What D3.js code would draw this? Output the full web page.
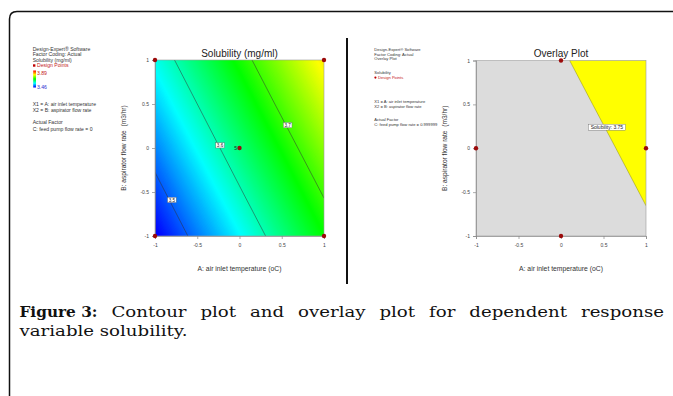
<!DOCTYPE html>
<html><head><meta charset="utf-8">
<script src="https://cdn.jsdelivr.net/npm/d3@7"></script>
<style>body{margin:0;background:#fff} svg{display:block}</style>
</head><body><svg id="c" width="673" height="396"></svg>
<script>
// ---------------- data ----------------
const tickValues = [-1, -0.5, 0, 0.5, 1];
const gridA = [-1, -0.5, 0, 0.5, 1];          // columns
const gridB = [1, 0.5, 0, -0.5, -1];          // rows, top to bottom
// Solubility (mg/ml) at C = 0 (left contour plot)
const solubilityC0 = [
  [3.575, 3.629, 3.684, 3.738, 3.792],
  [3.546, 3.600, 3.654, 3.709, 3.763],
  [3.516, 3.571, 3.625, 3.679, 3.734],
  [3.487, 3.541, 3.596, 3.650, 3.704],
  [3.458, 3.512, 3.566, 3.621, 3.675]
];
// Solubility at C = 0.999999 (right overlay plot)
const solubilityC1 = [
  [3.630, 3.684, 3.739, 3.793, 3.847],
  [3.601, 3.655, 3.709, 3.764, 3.818],
  [3.571, 3.626, 3.680, 3.734, 3.789],
  [3.542, 3.596, 3.651, 3.705, 3.759],
  [3.513, 3.567, 3.621, 3.676, 3.730]
];
const colorRange = [3.46, 3.89];
const contourLevels = [3.5, 3.6, 3.7];
const contourLabelA = [-0.80, -0.23, 0.57];
const contourLabelB = [-0.59, 0.03, 0.26];
const overlayLevel = 3.75;
const overlayLabel = {A: 0.54, B: 0.24, text: "Solubility: 3.75"};
const designLeftA = [-1, 1, -1, 1, 0];
const designLeftB = [1, 1, -1, -1, 0];
const designLeftN = ["", "", "", "", "5"];
const designRightA = [0, -1, 1, 0];
const designRightB = [1, 0, 0, -1];
const legendLeft = ["Design-Expert\u00AE Software", "Factor Coding: Actual", "Solubility (mg/ml)"];
const legendFactors = ["X1 = A: air inlet temperature", "X2 = B: aspirator flow rate"];
const legendLeft3 = ["Actual Factor", "C: feed pump flow rate = 0"];
const legendRight = ["Design-Expert\u00AE Software", "Factor Coding: Actual", "Overlay Plot"];
const legendRight3 = ["Actual Factor", "C: feed pump flow rate = 0.999999"];
const titles = ["Solubility (mg/ml)", "Overlay Plot"];
const xTitle = "A: air inlet temperature (oC)";
const yTitle = "B: aspirator flow rate\u00A0\u00A0(m3/hr)";
const captionBold = "Figure 3:";
const captionLine1 = "Contour plot and overlay plot for dependent response";
const captionLine2 = "variable solubility.";

// ---------------- drawing ----------------
const svg = d3.select("#c");
const SANS = "'Liberation Sans', Arial, sans-serif";
const ptColor = "#9b0a0a";

// frame
svg.append("path").attr("d", "M9.5,396 V19 Q9.5,11.5 17,11.5 H673")
  .attr("fill", "none").attr("stroke", "#111").attr("stroke-width", 1.5);
// separator
svg.append("line").attr("x1", 347).attr("x2", 347).attr("y1", 38).attr("y2", 284)
  .attr("stroke", "#111").attr("stroke-width", 2);

const colorScale = d3.scaleLinear()
  .domain([0, 0.25, 0.5, 0.75, 1].map(t => colorRange[0] + t * (colorRange[1] - colorRange[0])))
  .range(["#0000ff", "#00ffff", "#00ff00", "#ffff00", "#ff0000"]).clamp(true);

function makePlot(box, id) {
  const xs = d3.scaleLinear().domain([-1, 1]).range([box.x0, box.x1]);
  const ys = d3.scaleLinear().domain([-1, 1]).range([box.y1, box.y0]);
  const ga = d3.scaleLinear().domain([0.5, gridA.length - 0.5]).range([gridA[0], gridA[gridA.length - 1]]);
  const gb = d3.scaleLinear().domain([0.5, gridB.length - 0.5]).range([gridB[0], gridB[gridB.length - 1]]);
  const path = d3.geoPath(d3.geoTransform({
    point(x, y) { this.stream.point(xs(ga(x)), ys(gb(y))); }
  }));
  svg.append("clipPath").attr("id", id).append("rect")
    .attr("x", box.x0).attr("y", box.y0).attr("width", box.x1 - box.x0).attr("height", box.y1 - box.y0);
  const g = svg.append("g");
  const inner = g.append("g").attr("clip-path", `url(#${id})`);
  return {xs, ys, path, g, inner};
}

function axes(p, box) {
  const ax = p.g.append("g").attr("transform", `translate(0,${box.y1})`)
    .call(d3.axisBottom(p.xs).tickValues(tickValues).tickSize(3).tickPadding(4).tickFormat(d => String(d)));
  const ay = p.g.append("g").attr("transform", `translate(${box.x0},0)`)
    .call(d3.axisLeft(p.ys).tickValues(tickValues).tickSize(3).tickPadding(3).tickFormat(d => String(d)));
  [ax, ay].forEach(a => {
    a.selectAll("path,line").attr("stroke", "#888").attr("stroke-width", 0.7);
    a.selectAll("text").attr("font-family", SANS).attr("font-size", 5).attr("fill", "#444");
  });
  p.g.append("text").attr("x", (box.x0 + box.x1) / 2).attr("y", 270.5)
    .attr("text-anchor", "middle").attr("font-family", SANS).attr("font-size", 6.8).attr("fill", "#333")
    .text(xTitle);
  p.g.append("text").attr("transform", `translate(${box.x0 - 29},${(box.y0 + box.y1) / 2}) rotate(-90)`)
    .attr("text-anchor", "middle").attr("font-family", SANS).attr("font-size", 6.6).attr("fill", "#333")
    .style("white-space", "pre").text(yTitle);
}

function legendLines(x, lines, ys, size, color) {
  lines.forEach((t, i) => svg.append("text").attr("x", x).attr("y", ys[i])
    .attr("font-family", SANS).attr("font-size", size).attr("fill", color || "#333").text(t));
}

// ---------- left: contour plot ----------
const boxL = {x0: 155, x1: 324, y0: 60, y1: 236};
const L = makePlot(boxL, "clipL");
const flat0 = solubilityC0.flat();
const fillThresholds = d3.range(3.44, 3.80, 0.002);
L.inner.selectAll("path.band")
  .data(d3.contours().size([gridA.length, gridB.length]).thresholds(fillThresholds)(flat0))
  .join("path").attr("class", "band").attr("d", L.path)
  .attr("fill", d => colorScale(d.value)).attr("stroke", d => colorScale(d.value)).attr("stroke-width", 0.6);
L.inner.selectAll("path.iso")
  .data(d3.contours().size([gridA.length, gridB.length]).thresholds(contourLevels)(flat0))
  .join("path").attr("class", "iso").attr("d", L.path)
  .attr("fill", "none").attr("stroke", "#333").attr("stroke-width", 0.5);
L.g.append("rect").attr("x", boxL.x0).attr("y", boxL.y0).attr("width", boxL.x1 - boxL.x0)
  .attr("height", boxL.y1 - boxL.y0).attr("fill", "none").attr("stroke", "#999").attr("stroke-width", 0.6);
contourLevels.forEach((lv, i) => {
  const cx = L.xs(contourLabelA[i]), cy = L.ys(contourLabelB[i]);
  L.g.append("rect").attr("x", cx - 4.3).attr("y", cy - 2.6).attr("width", 8.6).attr("height", 5.2)
    .attr("fill", "#fff").attr("stroke", "#666").attr("stroke-width", 0.4);
  L.g.append("text").attr("x", cx).attr("y", cy + 1.7).attr("text-anchor", "middle")
    .attr("font-family", SANS).attr("font-size", 4.6).attr("fill", "#222").text(String(lv));
});
axes(L, boxL);
L.g.append("text").attr("x", (boxL.x0 + boxL.x1) / 2).attr("y", 56.5).attr("text-anchor", "middle")
  .attr("font-family", SANS).attr("font-size", 10).attr("fill", "#222").text(titles[0]);
designLeftA.forEach((a, i) => {
  L.g.append("circle").attr("cx", L.xs(a)).attr("cy", L.ys(designLeftB[i])).attr("r", 2.2).attr("fill", ptColor);
  if (designLeftN[i]) L.g.append("text").attr("x", L.xs(a) - 2.5).attr("y", L.ys(designLeftB[i]) + 1.8)
    .attr("text-anchor", "end").attr("font-family", SANS).attr("font-size", 5).attr("fill", "#222").text(designLeftN[i]);
});

// left legend
const FL = 5.1;
legendLines(32.7, legendLeft, [51.1, 56.3, 61.5], FL);
svg.append("rect").attr("x", 33).attr("y", 64.3).attr("width", 2.4).attr("height", 2.4).attr("fill", "#c00000");
svg.append("text").attr("x", 37).attr("y", 66.7).attr("font-family", SANS).attr("font-size", FL)
  .attr("fill", "#c42020").text("Design Points");
const lg = svg.append("defs").append("linearGradient").attr("id", "cbar")
  .attr("x1", 0).attr("y1", 1).attr("x2", 0).attr("y2", 0);
[0, 0.25, 0.5, 0.75, 1].forEach(t => lg.append("stop").attr("offset", t)
  .attr("stop-color", colorScale(colorRange[0] + t * (colorRange[1] - colorRange[0]))));
svg.append("rect").attr("x", 33.2).attr("y", 70.5).attr("width", 2.8).attr("height", 17).attr("fill", "url(#cbar)");
svg.append("text").attr("x", 37).attr("y", 74.5).attr("font-family", SANS).attr("font-size", FL)
  .attr("fill", "#c42020").text(colorRange[1].toFixed(2));
svg.append("text").attr("x", 37).attr("y", 88.6).attr("font-family", SANS).attr("font-size", FL)
  .attr("fill", "#2b2bd0").text(colorRange[0].toFixed(2));
legendLines(32.7, legendFactors, [106.2, 111.9], FL);
legendLines(32.7, legendLeft3, [123.9, 130.6], FL);

// ---------- right: overlay plot ----------
const boxR = {x0: 476, x1: 646, y0: 60.5, y1: 236};
const R = makePlot(boxR, "clipR");
R.inner.append("rect").attr("x", boxR.x0).attr("y", boxR.y0).attr("width", boxR.x1 - boxR.x0)
  .attr("height", boxR.y1 - boxR.y0).attr("fill", "#dcdcdc");
R.inner.selectAll("path.ov")
  .data(d3.contours().size([gridA.length, gridB.length]).thresholds([overlayLevel])(solubilityC1.flat()))
  .join("path").attr("class", "ov").attr("d", R.path)
  .attr("fill", "#ffff00").attr("stroke", "#8c8c10").attr("stroke-width", 0.5);
R.g.append("rect").attr("x", boxR.x0).attr("y", boxR.y0).attr("width", boxR.x1 - boxR.x0)
  .attr("height", boxR.y1 - boxR.y0).attr("fill", "none").attr("stroke", "#999").attr("stroke-width", 0.6);
axes(R, boxR);
R.g.append("text").attr("x", (boxR.x0 + boxR.x1) / 2).attr("y", 56.5).attr("text-anchor", "middle")
  .attr("font-family", SANS).attr("font-size", 10).attr("fill", "#222").text(titles[1]);
{
  const cx = R.xs(overlayLabel.A), cy = R.ys(overlayLabel.B);
  R.g.append("rect").attr("x", cx - 18.5).attr("y", cy - 3).attr("width", 37).attr("height", 6)
    .attr("fill", "#fff").attr("stroke", "#666").attr("stroke-width", 0.4);
  R.g.append("text").attr("x", cx).attr("y", cy + 1.8).attr("text-anchor", "middle")
    .attr("font-family", SANS).attr("font-size", 5).attr("fill", "#222").text(overlayLabel.text);
}
designRightA.forEach((a, i) => {
  R.g.append("circle").attr("cx", R.xs(a)).attr("cy", R.ys(designRightB[i])).attr("r", 2.2).attr("fill", ptColor);
});
const FR = 4.1;
legendLines(374.3, legendRight, [50.8, 55.5, 60.2], FR);
legendLines(374.3, ["Solubility"], [74.2], FR);
svg.append("circle").attr("cx", 375.4).attr("cy", 77.6).attr("r", 1.1).attr("fill", "#c00000");
svg.append("text").attr("x", 378).attr("y", 79.1).attr("font-family", SANS).attr("font-size", FR)
  .attr("fill", "#c42020").text("Design Points");
legendLines(374.3, legendFactors, [102.8, 107.8], FR);
legendLines(374.3, legendRight3, [120.8, 126.2], FR);

// ---------- caption ----------
const SERIF = "'DejaVu Serif', serif";
const capX0 = 19.5, capX1 = 664, stretch = 1.21;
const cap = svg.append("g").attr("font-family", SERIF).attr("font-size", 15).attr("fill", "#111");
const words = [{t: captionBold, b: true}].concat(captionLine1.split(" ").map(t => ({t, b: false})));
const nodes = words.map(w => cap.append("text").attr("y", 317).attr("font-weight", w.b ? "bold" : "normal").text(w.t));
const widths = nodes.map((n, i) => {
  const w0 = n.node().getComputedTextLength();
  const w = words[i].b ? 78 : w0 * stretch;
  n.attr("textLength", w).attr("lengthAdjust", "spacingAndGlyphs");
  return w;
});
const gap = (capX1 - capX0 - d3.sum(widths)) / (nodes.length - 1);
let cx = capX0;
nodes.forEach((n, i) => { n.attr("x", cx); cx += widths[i] + gap; });
const l2 = cap.append("text").attr("x", capX0).attr("y", 335.5).text(captionLine2);
l2.attr("textLength", l2.node().getComputedTextLength() * stretch).attr("lengthAdjust", "spacingAndGlyphs");
</script>
</body></html>
